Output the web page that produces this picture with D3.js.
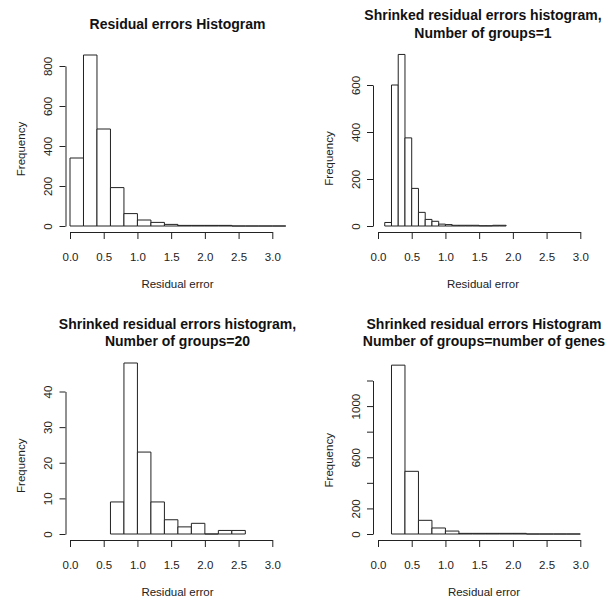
<!DOCTYPE html>
<html>
<head>
<meta charset="utf-8">
<script src="https://cdn.jsdelivr.net/npm/d3@7"></script>
<style>
  body { margin: 0; background: #fff; }
  svg { font-family: "Liberation Sans", Arial, sans-serif; }
</style>
</head>
<body>
<div id="chart"></div>
<script>
// histogram counts (one array per panel)
var rawStart = 0.0, rawWidth = 0.2;
var rawCounts = [340, 855, 485, 192, 62, 30, 18, 8, 3, 3, 3, 3, 0, 0, 0, 0];

var oneGroupStart = 0.1, oneGroupWidth = 0.1;
var oneGroupCounts = [15, 600, 730, 375, 160, 58, 28, 20, 8, 6, 3, 3, 3, 3, 1, 1, 3, 3];

var twentyStart = 0.6, twentyWidth = 0.2;
var twentyCounts = [9, 48, 23, 9, 4, 2, 3, 0, 1, 1];

var genesStart = 0.2, genesWidth = 0.2;
var genesCounts = [1320, 490, 107, 47, 23, 5, 5, 5, 5, 5, 0, 0, 0, 0];

var xTicks = [0, 0.5, 1, 1.5, 2, 2.5, 3];
var rawYTicks = [0, 200, 400, 600, 800];
var oneGroupYTicks = [0, 200, 400, 600];
var twentyYTicks = [0, 10, 20, 30, 40];
var genesYTicks = [0, 200, 400, 600, 800, 1000, 1200];
var genesYLabels = [0, 200, 600, 1000];

var titles = [
  ["Residual errors Histogram"],
  ["Shrinked residual errors histogram,", "Number of groups=1"],
  ["Shrinked residual errors histogram,", "Number of groups=20"],
  ["Shrinked residual errors Histogram", "Number of groups=number of genes"]
];

var ink = "#222";

var svg = d3.select("#chart").append("svg")
  .attr("width", 609)
  .attr("height", 610);

var panels = [
  {counts: rawCounts, start: rawStart, width: rawWidth, yTicks: rawYTicks, yLabels: rawYTicks,
   title: titles[0], left: 70, base: 226, top: 66, yAxisX: 65.5, xAxisY: 232, titleX: 177.5, titleY: [28.5], yTopOffset: 0},
  {counts: oneGroupCounts, start: oneGroupStart, width: oneGroupWidth, yTicks: oneGroupYTicks, yLabels: oneGroupYTicks,
   title: titles[1], left: 378, base: 226, top: 85, yAxisX: 373, xAxisY: 232, titleX: 483, titleY: [20, 37.5]},
  {counts: twentyCounts, start: twentyStart, width: twentyWidth, yTicks: twentyYTicks, yLabels: twentyYTicks,
   title: titles[2], left: 70, base: 534, top: 391.5, yAxisX: 65.5, xAxisY: 540, titleX: 177.5, titleY: [329, 345.5]},
  {counts: genesCounts, start: genesStart, width: genesWidth, yTicks: genesYTicks, yLabels: genesYLabels,
   title: titles[3], left: 378, base: 534, top: 380.5, yAxisX: 373, xAxisY: 540, titleX: 484, titleY: [329, 345.5]}
];

panels.forEach(function(p) {
  var x = d3.scaleLinear().domain([0, 3]).range([p.left, p.left + 202.3]);
  var y = d3.scaleLinear().domain([0, d3.max(p.yTicks)]).range([p.base, p.top]);

  var bins = p.counts.map(function(c, i) {
    return {x0: p.start + i * p.width, x1: p.start + (i + 1) * p.width, n: c};
  });

  // bars as paths so empty bins still show as a flat line
  svg.append("g").selectAll("path")
    .data(bins)
    .join("path")
    .attr("d", function(d) {
      return "M" + x(d.x0) + "," + y(0) + "V" + y(d.n) + "H" + x(d.x1) + "V" + y(0) + "Z";
    })
    .attr("fill", "#fff")
    .attr("stroke", ink)
    .attr("stroke-width", 1);

  // x axis
  var gx = svg.append("g")
    .attr("transform", "translate(0," + p.xAxisY + ")")
    .call(d3.axisBottom(x).tickValues(xTicks).tickSize(7).tickSizeOuter(0)
      .tickFormat(d3.format(".1f")));
  gx.select(".domain").attr("stroke", ink);
  gx.selectAll(".tick line").attr("stroke", ink);
  gx.selectAll(".tick text")
    .attr("y", 29).attr("dy", 0)
    .attr("font-size", 11.5).attr("fill", ink)
    .attr("font-family", "Liberation Sans, Arial, sans-serif");

  // y axis, labels turned like R
  var gy = svg.append("g")
    .attr("transform", "translate(" + p.yAxisX + ",0)")
    .call(d3.axisLeft(y).tickValues(p.yTicks).tickSize(6).tickSizeOuter(0)
      .tickFormat(function(d) { return p.yLabels.indexOf(d) >= 0 ? d : ""; }));
  gy.select(".domain").attr("stroke", ink);
  gy.selectAll(".tick line").attr("stroke", ink);
  gy.selectAll(".tick text")
    .attr("transform", "rotate(-90)")
    .attr("x", 0).attr("y", -13.5).attr("dy", 0)
    .attr("text-anchor", "middle")
    .attr("font-size", 11.5).attr("fill", ink)
    .attr("font-family", "Liberation Sans, Arial, sans-serif");

  // axis titles
  svg.append("text")
    .attr("x", p.titleX)
    .attr("y", p.xAxisY + 55.5)
    .attr("text-anchor", "middle")
    .attr("font-size", 11.5)
    .attr("fill", ink)
    .text("Residual error");

  svg.append("text")
    .attr("transform", "translate(" + (p.yAxisX - 44.5) + "," + ((p.base + p.top) / 2 + 3) + ") rotate(-90)")
    .attr("dy", "0.35em")
    .attr("text-anchor", "middle")
    .attr("font-size", 11.5)
    .attr("fill", ink)
    .text("Frequency");

  // main title
  p.title.forEach(function(t, i) {
    svg.append("text")
      .attr("x", p.titleX)
      .attr("y", p.titleY[i])
      .attr("text-anchor", "middle")
      .attr("font-size", 14)
      .attr("font-weight", "bold")
      .attr("fill", "#111")
      .text(t);
  });
});
</script>
</body>
</html>
